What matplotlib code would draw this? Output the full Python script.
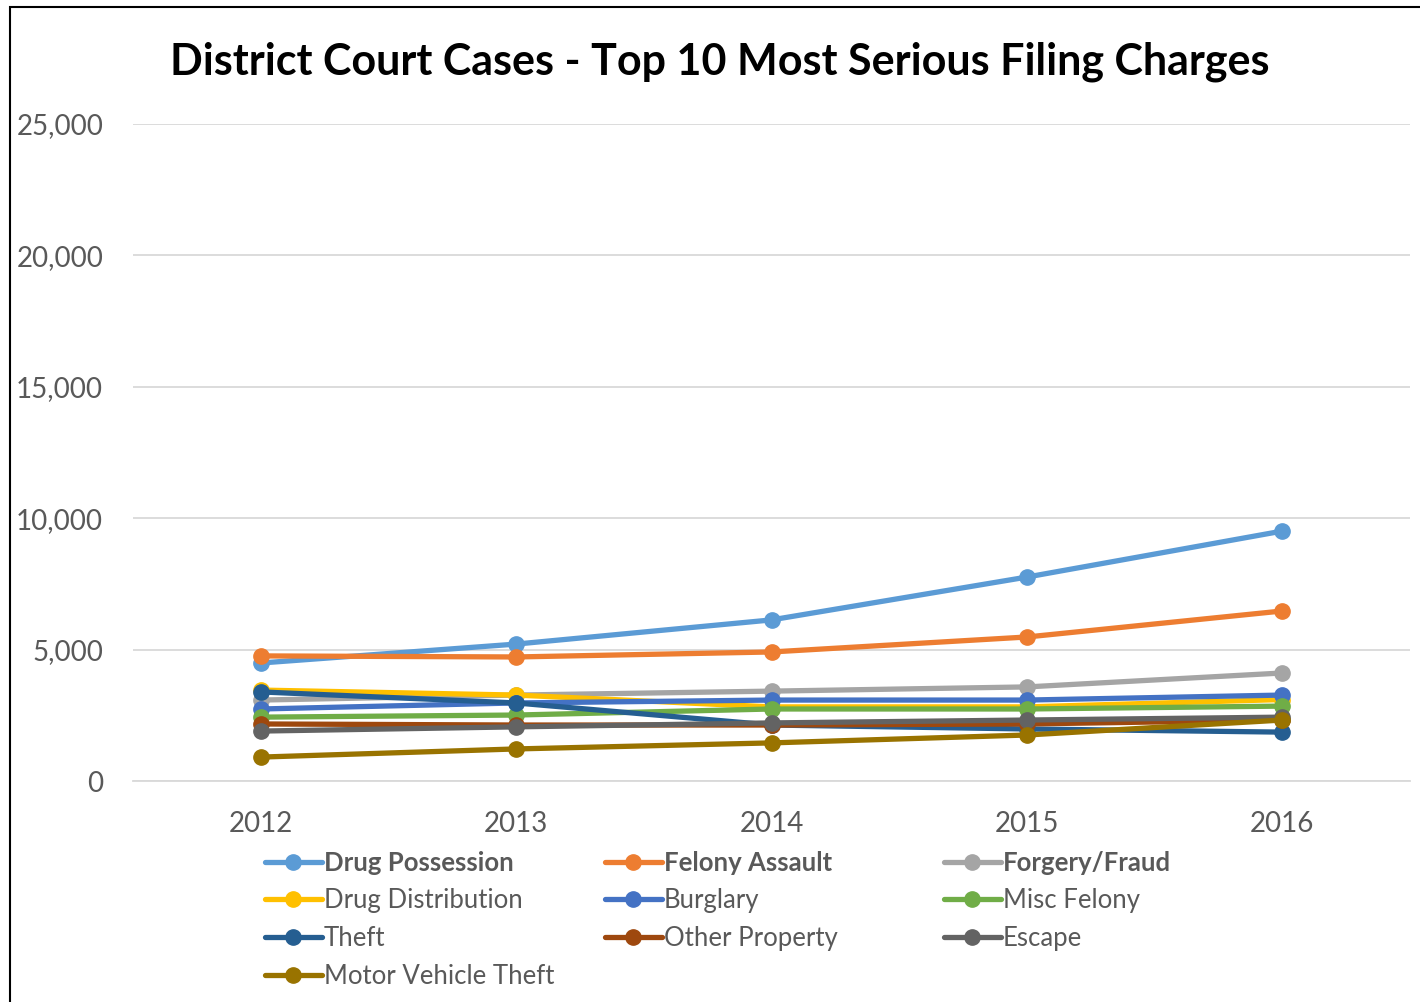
import matplotlib
matplotlib.use("Agg")
import matplotlib.pyplot as plt
from matplotlib.patches import Rectangle

plt.rcParams['font.family'] = ['Lato', 'DejaVu Sans']

years = ["2012", "2013", "2014", "2015", "2016"]
drug_possession = [4490, 5210, 6130, 7760, 9510]
felony_assault = [4760, 4720, 4910, 5480, 6470]
forgery_fraud = [3080, 3270, 3420, 3580, 4110]
drug_distribution = [3460, 3270, 2820, 2820, 3100]
burglary = [2740, 2970, 3080, 3080, 3270]
misc_felony = [2430, 2510, 2740, 2740, 2850]
theft = [3390, 2970, 2130, 1980, 1860]
other_property = [2170, 2130, 2130, 2170, 2320]
escape = [1900, 2060, 2210, 2320, 2430]
motor_vehicle_theft = [910, 1220, 1450, 1750, 2320]

series = [
    ("Drug Possession", drug_possession, "#5B9BD5"),
    ("Felony Assault", felony_assault, "#ED7D31"),
    ("Forgery/Fraud", forgery_fraud, "#A5A5A5"),
    ("Drug Distribution", drug_distribution, "#FFC000"),
    ("Burglary", burglary, "#4472C4"),
    ("Misc Felony", misc_felony, "#70AD47"),
    ("Theft", theft, "#255E91"),
    ("Other Property", other_property, "#9E480E"),
    ("Escape", escape, "#636363"),
    ("Motor Vehicle Theft", motor_vehicle_theft, "#997300"),
]

fig = plt.figure(figsize=(14.2, 10.02), dpi=100)
ax = fig.add_axes([133/1420, 1-781/1002, 1277/1420, 657/1002])

x = list(range(len(years)))
handles = []
for name, vals, col in series:
    h, = ax.plot(x, vals, color=col, lw=3.8, marker='o', markersize=11,
                 solid_capstyle='round', label=name, zorder=3)
    handles.append(h)

ax.set_xlim(-0.5, 4.5)
ax.set_ylim(0, 25000)
ax.set_yticks(range(0, 25001, 5000))
ax.set_yticklabels([f"{v:,}" for v in range(0, 25001, 5000)])
ax.set_xticks(x)
ax.set_xticklabels(years)
ax.grid(axis='y', color='#D9D9D9', lw=1.3, zorder=0)
for s in ['top', 'right', 'left']:
    ax.spines[s].set_visible(False)
ax.spines['bottom'].set_color('#D9D9D9')
ax.spines['bottom'].set_linewidth(1.3)
ax.tick_params(axis='both', length=0, labelsize=20, labelcolor='#595959')
ax.tick_params(axis='y', pad=21.5)
ax.tick_params(axis='x', pad=21.5)

fig.text(720/1420, 1-62/1002, "District Court Cases - Top 10 Most Serious Filing Charges",
         ha='center', va='center', fontsize=31, fontweight='bold', color='black')

cols = [[0, 3, 6, 9], [1, 4, 7], [2, 5, 8]]
xs = [265, 605, 944]
for ci, idx in enumerate(cols):
    leg = fig.legend([handles[i] for i in idx], [series[i][0] for i in idx],
                     loc='upper left', bbox_to_anchor=(xs[ci]/1420, 1-851/1002),
                     frameon=False, fontsize=18.5, handlelength=2.2, handletextpad=0.1,
                     labelspacing=0.5, borderpad=0, borderaxespad=0)
    for j, t in enumerate(leg.get_texts()):
        t.set_color('#595959')
        if j == 0:
            t.set_fontweight('bold')

fig.patches.append(Rectangle((10/1420, -0.01), 1.0, 1 - 7/1002 + 0.01, transform=fig.transFigure,
                             fill=False, edgecolor='black', lw=1.5))

fig.savefig("out.png", dpi=100)
